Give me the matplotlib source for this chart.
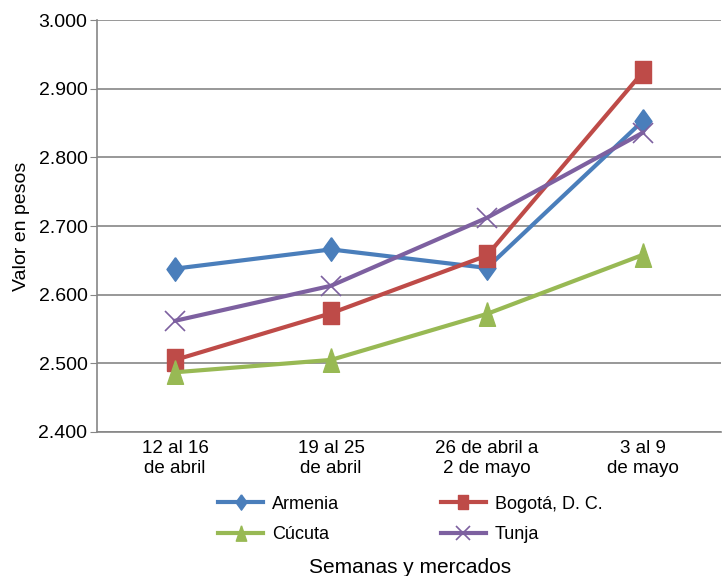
import numpy as np
import matplotlib.pyplot as plt

plt.rcParams['font.family'] = ['Liberation Sans', 'DejaVu Sans']

# semanas y precios por mercado
semanas = ["12 al 16\nde abril", "19 al 25\nde abril", "26 de abril a\n2 de mayo", "3 al 9\nde mayo"]
armenia = [2638, 2666, 2639, 2853]
bogota = [2505, 2573, 2657, 2924]
cucuta = [2487, 2505, 2572, 2658]
tunja = [2562, 2613, 2712, 2836]

x = np.arange(len(semanas))

# marcadores algo más altos que anchos, como en el original
rombo = [(0, 1), (0.72, 0), (0, -1), (-0.72, 0), (0, 1)]
cuadro = [(-0.72, -1), (0.72, -1), (0.72, 1), (-0.72, 1), (-0.72, -1)]
triang = [(0, 1), (0.68, -1), (-0.68, -1), (0, 1)]

fig = plt.figure(figsize=(7.25, 5.76), dpi=100)
ax = fig.add_axes([0.134, 0.25, 0.860, 0.715])

l1, = ax.plot(x, armenia, color="#4A7EBB", linewidth=3, marker=rombo, markersize=17, label="Armenia")
l2, = ax.plot(x, bogota, color="#BE4B48", linewidth=3, marker=cuadro, markersize=16, label="Bogotá, D. C.")
l3, = ax.plot(x, cucuta, color="#98B954", linewidth=3, marker=triang, markersize=17, label="Cúcuta")
l4, = ax.plot(x, tunja, color="#7D60A0", linewidth=3, marker="x", markersize=15,
              markeredgewidth=1.2, label="Tunja")

ax.set_xlim(-0.5, 3.5)
ax.set_ylim(2400, 3000)
ax.set_yticks(np.arange(2400, 3001, 100))
ax.set_yticklabels([f"{v // 1000}.{v % 1000:03d}" for v in range(2400, 3001, 100)])
ax.set_xticks(x)
ax.set_xticklabels(semanas)

ax.grid(axis="y", color="#868686", linewidth=1.2)
ax.set_axisbelow(True)
for s in ["top", "right"]:
    ax.spines[s].set_visible(False)
for s in ["left", "bottom"]:
    ax.spines[s].set_color("#868686")
    ax.spines[s].set_linewidth(1.2)
ax.tick_params(axis="y", length=5, color="#868686", labelsize=14, pad=2)
ax.tick_params(axis="x", length=0, labelsize=13.5, pad=6)

ax.set_ylabel("Valor en pesos", fontsize=14, labelpad=6)
fig.text(0.565, 0.005, "Semanas y mercados", ha="center", fontsize=15)

fig.legend([l1, l3, l2, l4], ["Armenia", "Cúcuta", "Bogotá, D. C.", "Tunja"],
           loc="center", bbox_to_anchor=(0.566, 0.098), ncol=2, frameon=False,
           fontsize=13, handlelength=2.5, columnspacing=5.6, labelspacing=0.75,
           handletextpad=0.5, markerscale=0.65)

plt.savefig("out.png", dpi=100)
